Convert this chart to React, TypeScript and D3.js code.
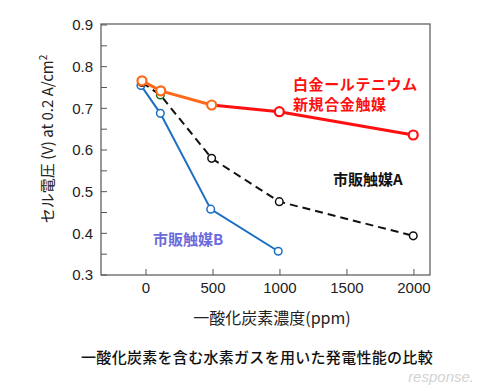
import * as d3 from 'd3';

// CO concentration (ppm) vs cell voltage (V) at 0.2 A/cm2
const ptRuX = [-30, 110, 490, 995, 1995];
const ptRuY = [0.766, 0.742, 0.708, 0.692, 0.636];
const catAX = [-30, 107, 490, 995, 1995];
const catAY = [0.762, 0.732, 0.58, 0.476, 0.394];
const catBX = [-38, 107, 483, 987];
const catBY = [0.755, 0.688, 0.458, 0.357];

const xTicks = [0, 500, 1000, 1500, 2000];
const yTicks = [0.3, 0.4, 0.5, 0.6, 0.7, 0.8, 0.9];
const yMinor = [0.35, 0.45, 0.55, 0.65, 0.75, 0.85];

const FONT = '"Liberation Sans", Arial, "Noto Sans CJK JP", sans-serif';
const JP = '"Noto Sans CJK JP", "Liberation Sans", sans-serif';

const m = { left: 101, top: 25, right: 430, bottom: 275 };

export default function App() {
  const x = d3.scaleLinear().domain([-336, 2120]).range([m.left, m.right]);
  const y = d3.scaleLinear().domain([0.3, 0.9]).range([m.bottom, m.top]);
  const line = d3.line<[number, number]>().x(d => x(d[0])).y(d => y(d[1]));

  const pts = (xs: number[], ys: number[]) => xs.map((v, i) => [v, ys[i]] as [number, number]);
  const ptRu = pts(ptRuX, ptRuY);
  const catA = pts(catAX, catAY);
  const catB = pts(catBX, catBY);

  const orange = '#ff6a1a';
  const red = '#ff1010';
  const blue = '#1a6fc4';

  return (
    <svg width={484} height={388} style={{ position: 'absolute', left: 0, top: 0, background: '#fff' }}>
      {/* frame */}
      <rect x={m.left} y={m.top - 1} width={m.right - m.left} height={m.bottom - m.top + 1}
        fill="none" stroke="#555" strokeWidth={1.2} />

      {yTicks.map(t => (
        <g key={'y' + t}>
          <line x1={m.left} x2={m.left + 6} y1={y(t)} y2={y(t)} stroke="#555" />
          <text x={93} y={y(t)} dy="0.35em" textAnchor="end" fontSize={15} fontFamily={FONT} fill="#222">
            {t.toFixed(1)}
          </text>
        </g>
      ))}
      {yMinor.map(t => (
        <line key={'ym' + t} x1={m.left} x2={m.left + 6} y1={y(t)} y2={y(t)} stroke="#555" />
      ))}
      {xTicks.map(t => (
        <g key={'x' + t}>
          <line x1={x(t)} x2={x(t)} y1={m.bottom} y2={m.bottom - 6} stroke="#555" />
          <text x={x(t)} y={288} dy="0.35em" textAnchor="middle" fontSize={15} fontFamily={FONT} fill="#222">
            {t}
          </text>
        </g>
      ))}

      {/* axis titles */}
      <text x={272} y={318} dy="0.35em" textAnchor="middle" fontSize={16} fontFamily={JP} fill="#222">
        一酸化炭素濃度(ppm)
      </text>
      <text transform={`translate(48,${139}) rotate(-90)`} textAnchor="middle" dy="0.35em"
        fontSize={15} fontFamily={JP} fill="#222">
        セル電圧 (V) at 0.2 A/cm<tspan dy="-6" fontSize={10}>2</tspan>
      </text>

      {/* commercial catalyst B */}
      <path d={line(catB) ?? ''} fill="none" stroke={blue} strokeWidth={2} />
      {catB.map((d, i) => (
        <circle key={'b' + i} cx={x(d[0])} cy={y(d[1])} r={3.8} fill="#fff" stroke={blue} strokeWidth={1.5} />
      ))}

      {/* commercial catalyst A */}
      <path d={line(catA) ?? ''} fill="none" stroke="#111" strokeWidth={2} strokeDasharray="8,5" />
      {catA.map((d, i) => (
        <circle key={'a' + i} cx={x(d[0])} cy={y(d[1])} r={3.8} fill="#fff"
          stroke={i === 1 ? '#1d6b1d' : '#111'} strokeWidth={1.5} />
      ))}

      {/* Pt-Ru alloy */}
      <path d={line(ptRu.slice(0, 3)) ?? ''} fill="none" stroke={orange} strokeWidth={3} />
      <path d={line(ptRu.slice(2)) ?? ''} fill="none" stroke={red} strokeWidth={3} />
      {ptRu.map((d, i) => (
        <circle key={'p' + i} cx={x(d[0])} cy={y(d[1])} r={4.5} fill="#fff"
          stroke={i < 3 ? orange : red} strokeWidth={2.2} />
      ))}

      {/* labels */}
      <text x={293} y={85} dy="0.35em" fontSize={15} fontWeight="bold" fontFamily={JP} fill={red} letterSpacing={0.6}>
        白金ールテニウム
      </text>
      <text x={293} y={105} dy="0.35em" fontSize={15} fontWeight="bold" fontFamily={JP} fill={red} letterSpacing={0.6}>
        新規合金触媒
      </text>
      <text x={333} y={180} dy="0.35em" fontSize={15} fontWeight="bold" fontFamily={JP} fill="#111">
        市販触媒A
      </text>
      <text x={153} y={240} dy="0.35em" fontSize={15} fontWeight="bold" fontFamily={JP} fill="#6b6bdc">
        市販触媒B
      </text>

      {/* caption */}
      <text x={257} y={358} dy="0.35em" textAnchor="middle" fontSize={15} fontWeight={500} fontFamily={JP}
        fill="#111" letterSpacing={0.3}>
        一酸化炭素を含む水素ガスを用いた発電性能の比較
      </text>
      <text x={474} y={377} dy="0.35em" textAnchor="end" fontSize={15} fontStyle="italic"
        fontFamily={FONT} fill="#c8c8c8" opacity={0.8}>
        response.
      </text>
    </svg>
  );
}
